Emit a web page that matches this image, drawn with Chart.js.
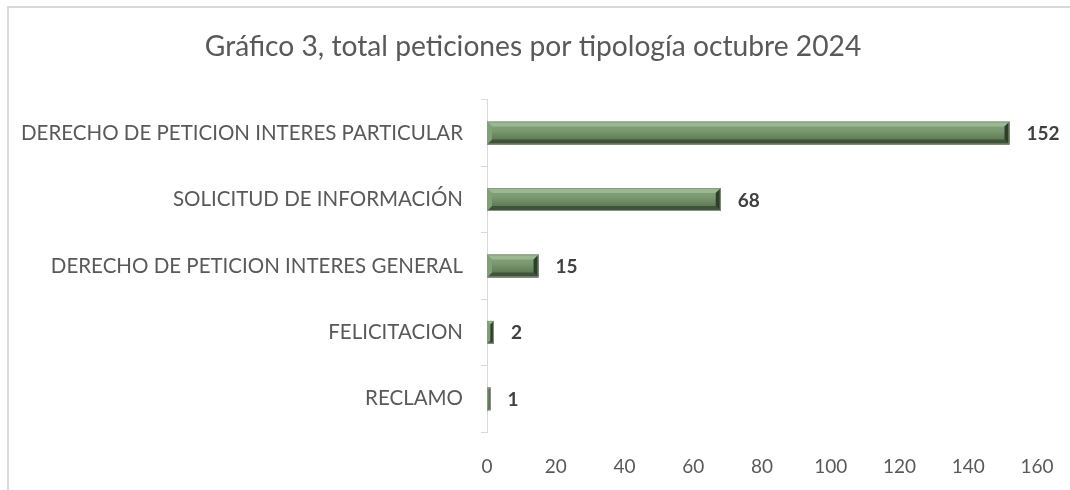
<!DOCTYPE html>
<html>
<head>
<meta charset="utf-8">
<script src="https://cdn.jsdelivr.net/npm/chart.js@4/dist/chart.umd.min.js"></script>
<style>
html,body{margin:0;padding:0;background:#fff;}
#wrap{position:relative;width:1070px;height:490px;}
</style>
</head>
<body>
<div id="wrap"><canvas id="c" width="1070" height="490"></canvas></div>
<script>
const titleText = 'Gráfico 3, total peticiones por tipología octubre 2024';
const categories = [
  'DERECHO DE PETICION INTERES PARTICULAR',
  'SOLICITUD DE INFORMACIÓN',
  'DERECHO DE PETICION INTERES GENERAL',
  'FELICITACION',
  'RECLAMO'
];
const values = [152, 68, 15, 2, 1];
const xTicks = [0, 20, 40, 60, 80, 100, 120, 140, 160];

const FONT = 'Lato, "Noto Sans", sans-serif';

const frame = {
  id: 'frame',
  afterLayout(chart) {
    const t = chart.titleBlock;
    if (t) { t.left = 29; t.right = 1037; }
  },
  beforeDraw(chart) {
    const ctx = chart.ctx;
    ctx.save();
    ctx.strokeStyle = '#d9d9d9';
    ctx.lineWidth = 2;
    ctx.beginPath();
    ctx.moveTo(8, 490);
    ctx.lineTo(8, 7);
    ctx.lineTo(1070, 7);
    ctx.stroke();
    ctx.restore();
  }
};

const bevel = {
  id: 'bevel',
  afterDatasetsDraw(chart) {
    const ctx = chart.ctx;
    const meta = chart.getDatasetMeta(0);
    ctx.save();
    meta.data.forEach((el, i) => {
      const p = el.getProps(['x', 'y', 'base', 'height'], true);
      const L = Math.min(p.base, p.x), R = Math.max(p.base, p.x);
      const T = p.y - p.height / 2, B = p.y + p.height / 2;
      const w = R - L, h = B - T;
      const b = Math.min(5, w / 2, h / 2);
      const g = ctx.createLinearGradient(0, T, 0, B);
      g.addColorStop(0, '#86a47c');
      g.addColorStop(0.4, '#7a9970');
      g.addColorStop(1, '#4f6a46');
      ctx.fillStyle = g;
      ctx.fillRect(L, T, w, h);
      ctx.fillStyle = '#9cb893';
      ctx.beginPath(); ctx.moveTo(L, T); ctx.lineTo(R, T); ctx.lineTo(R - b, T + b); ctx.lineTo(L + b, T + b); ctx.closePath(); ctx.fill();
      ctx.fillStyle = '#3e5337';
      ctx.beginPath(); ctx.moveTo(L, B); ctx.lineTo(R, B); ctx.lineTo(R - b, B - b); ctx.lineTo(L + b, B - b); ctx.closePath(); ctx.fill();
      ctx.fillStyle = '#82a078';
      ctx.beginPath(); ctx.moveTo(L, T); ctx.lineTo(L + b, T + b); ctx.lineTo(L + b, B - b); ctx.lineTo(L, B); ctx.closePath(); ctx.fill();
      ctx.fillStyle = '#2c3f27';
      ctx.beginPath(); ctx.moveTo(R, T); ctx.lineTo(R - b, T + b); ctx.lineTo(R - b, B - b); ctx.lineTo(R, B); ctx.closePath(); ctx.fill();
      ctx.strokeStyle = '#8a9a84';
      ctx.lineWidth = 1;
      ctx.strokeRect(L + 0.5, T + 0.5, w - 1, h - 1);
      ctx.fillStyle = '#404040';
      ctx.font = 'bold 19px ' + FONT;
      ctx.textAlign = 'left';
      ctx.textBaseline = 'middle';
      ctx.fillText(String(values[i]), R + 17, p.y + 1);
    });
    ctx.restore();
  }
};

new Chart(document.getElementById('c'), {
  type: 'bar',
  data: {
    labels: categories,
    datasets: [{
      data: values,
      backgroundColor: 'rgba(0,0,0,0)',
      borderWidth: 0,
      barPercentage: 0.345,
      categoryPercentage: 1
    }]
  },
  options: {
    indexAxis: 'y',
    responsive: false,
    animation: false,
    devicePixelRatio: 1,
    layout: { padding: { left: 0, right: 33, top: 0, bottom: 0 } },
    plugins: {
      legend: { display: false },
      tooltip: { enabled: false },
      title: {
        display: true,
        text: titleText,
        color: '#595959',
        font: { family: FONT, size: 28.2, weight: 'normal' },
        padding: { top: 30, bottom: 36 }
      }
    },
    scales: {
      x: {
        min: 0, max: 160,
        afterBuildTicks(s) { s.ticks = xTicks.map(v => ({ value: v })); },
        afterFit(s) { s.height = 58; s.paddingRight = 0; s.paddingLeft = 0; },
        grid: { display: false, drawTicks: false },
        border: { display: false },
        ticks: { color: '#595959', font: { family: FONT, size: 19 }, padding: 23 }
      },
      y: {
        afterFit(s) { s.width = 487; },
        grid: { display: true, drawOnChartArea: false, drawTicks: true, tickLength: 6, color: '#d9d9d9', offset: true },
        border: { display: true, color: '#d9d9d9', width: 1 },
        ticks: { color: '#595959', font: { family: FONT, size: 20.5 }, padding: 18 }
      }
    }
  },
  plugins: [frame, bevel]
});
</script>
</body>
</html>
